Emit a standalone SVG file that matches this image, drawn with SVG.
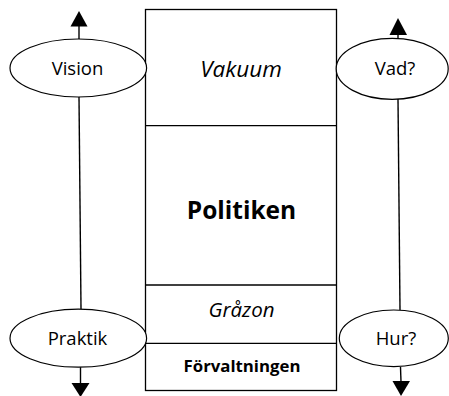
<svg xmlns="http://www.w3.org/2000/svg" width="449" height="396" viewBox="0 0 449 396">
<style>
.ln{stroke:#000;stroke-width:1.4;fill:none}
.el{stroke:#000;stroke-width:1.2;fill:#fff}
.bx{stroke:#000;stroke-width:1.3;fill:#fff}
text{font-family:"Open Sans","DejaVu Sans",sans-serif;fill:#000;text-anchor:middle}
.t{font-size:18.5px}
</style>
<g id="connectors">
<line class="ln" x1="79" y1="39" x2="79" y2="26"/>
<polygon points="79,11 70.5,26.5 87.5,26.5"/>
<line class="ln" x1="79" y1="97" x2="81" y2="309"/>
<line class="ln" x1="80.5" y1="367" x2="80.5" y2="384"/>
<polygon points="80.5,397 71.5,383 89.5,383"/>
<line class="ln" x1="398" y1="38" x2="398" y2="34"/>
<polygon points="398,18 389.5,35 407,35"/>
<line class="ln" x1="398" y1="99" x2="400" y2="310"/>
<line class="ln" x1="400.5" y1="367" x2="401" y2="382"/>
<polygon points="401,396 392.5,381 410,381"/>
</g>
<g id="column">
<rect class="bx" x="145.5" y="9.5" width="191" height="381"/>
<line class="bx" x1="145.5" y1="125.7" x2="336.5" y2="125.7"/>
<line class="bx" x1="145.5" y1="285" x2="336.5" y2="285"/>
<line class="bx" x1="145.5" y1="343.3" x2="336.5" y2="343.3"/>
</g>
<g id="vakuum"><text x="241" y="77" font-size="22.5" font-style="italic">Vakuum</text></g>
<g id="politiken"><text x="241.5" y="218.5" font-size="24.5" font-weight="bold">Politiken</text></g>
<g id="grazon"><text x="241.5" y="317" font-size="20.5" font-style="italic">Gråzon</text></g>
<g id="forvaltningen"><text x="242" y="372" font-size="16.8" font-weight="bold">Förvaltningen</text></g>
<g id="vision"><ellipse class="el" cx="78.3" cy="68" rx="68.3" ry="29"/><text class="t" x="77.5" y="74.5">Vision</text></g>
<g id="praktik"><ellipse class="el" cx="78.3" cy="338.2" rx="68.3" ry="29"/><text class="t" x="77.5" y="345">Praktik</text></g>
<g id="vad"><ellipse class="el" cx="392.2" cy="68.8" rx="56" ry="30.5"/><text class="t" x="395" y="74.5">Vad?</text></g>
<g id="hur"><ellipse class="el" cx="393.8" cy="338.3" rx="54.5" ry="28.3"/><text class="t" x="396" y="345">Hur?</text></g>
</svg>
